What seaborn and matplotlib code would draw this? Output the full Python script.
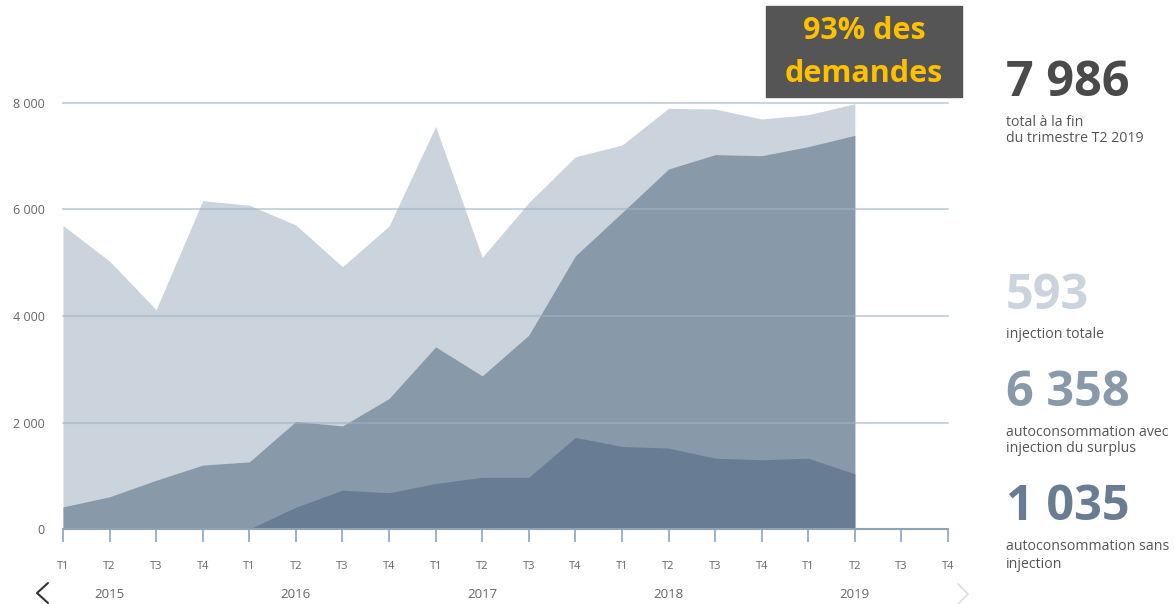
import numpy as np
import pandas as pd
import matplotlib
matplotlib.use("Agg")
import matplotlib.pyplot as plt
import seaborn as sns
from matplotlib.patches import Rectangle
from matplotlib.lines import Line2D

# trimestres T1 2015 -> T2 2019
trimestres = ["T1", "T2", "T3", "T4"] * 5
annees = ["2015", "2016", "2017", "2018", "2019"]
annee_pos = [1, 5, 9, 13, 17]

# composantes empilées (nombre de demandes)
sans_injection = [0, 0, 0, 0, 0, 410, 730, 680, 855, 970, 970, 1720, 1550, 1520, 1330, 1300, 1330, 1035]
avec_surplus = [415, 605, 915, 1200, 1260, 1610, 1205, 1770, 2565, 1905, 2670, 3410, 4390, 5240, 5700, 5710, 5850, 6358]
injection_totale = [5285, 4425, 3205, 4965, 4820, 3690, 2990, 3240, 4140, 2225, 2490, 1860, 1270, 1140, 856, 690, 600, 593]

df = pd.DataFrame({
    "idx": range(len(sans_injection)),
    "sans": sans_injection,
    "avec": avec_surplus,
    "inj": injection_totale,
})
df["haut_sans"] = df["sans"]
df["haut_avec"] = df["sans"] + df["avec"]
df["total"] = df["haut_avec"] + df["inj"]

c_light = "#cbd3dc"
c_mid = "#8899aa"
c_dark = "#687d93"
c_grid = "#9fb2c6"

sns.set_theme(style="white")
plt.rcParams["font.family"] = ["Open Sans", "DejaVu Sans"]

fig = plt.figure(figsize=(11.75, 6.04), dpi=100)
ax = fig.add_axes([63 / 1175, 1 - 529 / 604, (948 - 63) / 1175, (529 - 103) / 604])

ax.fill_between(df["idx"], 0, df["total"], color=c_light, lw=0)
ax.fill_between(df["idx"], 0, df["haut_avec"], color=c_mid, lw=0)
d = df[df["idx"] >= 4]
ax.fill_between(d["idx"], 0, d["haut_sans"], color=c_dark, lw=0)

# grille par-dessus les aires
for v in [2000, 4000, 6000, 8000]:
    ax.axhline(v, color=c_grid, lw=1.5, alpha=0.55, zorder=5, clip_on=False)

ax.set_xlim(0, 19)
ax.set_ylim(0, 8000)
for s in ["top", "right", "left"]:
    ax.spines[s].set_visible(False)
ax.spines["bottom"].set_color("#8fa3b8")
ax.spines["bottom"].set_linewidth(1.5)
ax.spines["bottom"].set_zorder(6)

ax.set_yticks([0, 2000, 4000, 6000, 8000])
ax.set_yticklabels(["0", "2 000", "4 000", "6 000", "8 000"])
ax.tick_params(axis="y", length=0, pad=13, labelsize=9, labelcolor="#666666")

ax.set_xticks(range(20))
ax.set_xticklabels(trimestres)
ax.set_xticks([3, 7, 11, 15, 19], minor=True)
ax.tick_params(axis="x", which="major", direction="out", length=9, width=1.2,
               color="#8fa3b8", pad=14, labelsize=8, labelcolor="#666666", bottom=True)
ax.tick_params(axis="x", which="minor", direction="out", length=15, width=1.2,
               color="#8fa3b8", bottom=True)

for a, p in zip(annees, annee_pos):
    ax.annotate(a, xy=(p, 0), xycoords=("data", "axes fraction"),
                xytext=(0, -47.5), textcoords="offset points",
                ha="center", va="center", fontsize=9.5, color="#666666")

# flèches de navigation
fig.add_artist(Line2D([48 / 1175, 37 / 1175, 48 / 1175],
                      [1 - 583 / 604, 1 - 593 / 604, 1 - 603 / 604],
                      color="#333333", lw=1.5))
fig.add_artist(Line2D([958 / 1175, 968 / 1175, 958 / 1175],
                      [1 - 584 / 604, 1 - 594 / 604, 1 - 604 / 604],
                      color="#dddddd", lw=1.2))

# encadré
fig.add_artist(Rectangle((766 / 1175, 1 - 97 / 604), 196 / 1175, 91 / 604,
                         transform=fig.transFigure, color="#555555", zorder=10))
fig.text(864 / 1175, 1 - 31 / 604, "93% des", ha="center", va="center",
         fontsize=22, fontweight="bold", color="#ffc000", zorder=11)
fig.text(864 / 1175, 1 - 74 / 604, "demandes", ha="center", va="center",
         fontsize=22, fontweight="bold", color="#ffc000", zorder=11)

# chiffres clés à droite
x0 = 1006 / 1175
gros = [("7 986", 83, "#4a4a4a"), ("593", 296, c_light),
        ("6 358", 394, c_mid), ("1 035", 507, c_dark)]
for t, y, c in gros:
    fig.text(x0, 1 - y / 604, t, ha="left", va="center", fontsize=35,
             fontweight="bold", color=c)

petits = [("total à la fin", 122), ("du trimestre T2 2019", 139),
          ("injection totale", 335),
          ("autoconsommation avec", 432), ("injection du surplus", 449),
          ("autoconsommation sans", 547), ("injection", 564)]
for t, y in petits:
    fig.text(x0, 1 - y / 604, t, ha="left", va="center", fontsize=10.2,
             color="#555555")

fig.savefig("out.png", dpi=100)
